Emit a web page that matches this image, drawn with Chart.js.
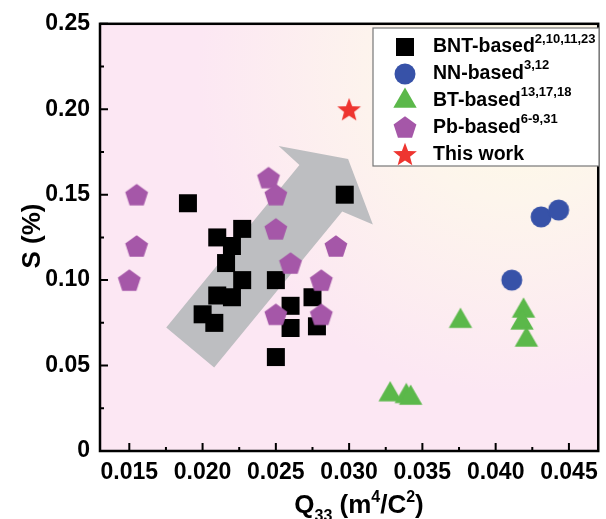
<!DOCTYPE html>
<html>
<head>
<meta charset="utf-8">
<script src="https://cdn.jsdelivr.net/npm/chart.js@4.4.1/dist/chart.umd.min.js"></script>
<style>
  html, body { margin: 0; padding: 0; background: #fff; }
  #wrap { width: 606px; height: 519px; }
</style>
</head>
<body>
<div id="wrap"><canvas id="chart" width="606" height="519"></canvas></div>
<script>
// ── Data (Q33 in m4/C2, S in %) ───────────────────────────────

const bntQ = [0.0190, 0.0210, 0.0227, 0.0220, 0.0216, 0.0227, 0.0210, 0.0220, 0.0200, 0.0208,
              0.0297, 0.0250, 0.0260, 0.0275, 0.0260, 0.0278, 0.0250];
const bntS = [0.145, 0.125, 0.130, 0.120, 0.110, 0.100, 0.091, 0.090, 0.080, 0.075,
              0.150, 0.100, 0.085, 0.090, 0.072, 0.073, 0.055];

const nnQ  = [0.0431, 0.0443, 0.0411];
const nnS  = [0.137, 0.141, 0.100];

const btQ  = [0.0376, 0.0419, 0.0418, 0.0421, 0.0328, 0.0339, 0.0342];
const btS  = [0.076, 0.082, 0.075, 0.065, 0.033, 0.032, 0.031];

const pbQ  = [0.0155, 0.0155, 0.0150, 0.0245, 0.0250, 0.0250, 0.0260, 0.0250, 0.0291, 0.0281, 0.0281];
const pbS  = [0.150, 0.120, 0.100, 0.160, 0.150, 0.130, 0.110, 0.080, 0.120, 0.100, 0.080];

const thisQ = [0.0300];
const thisS = [0.200];

const xTicks = ['0.015', '0.020', '0.025', '0.030', '0.035', '0.040', '0.045'];
const yTicks = ['0', '0.05', '0.10', '0.15', '0.20', '0.25'];

// trend arrow outline, in data units
const arrowQ = [0.01752, 0.02661, 0.02519, 0.02993, 0.03162, 0.02953, 0.02079];
const arrowS = [0.0723, 0.1674, 0.1785, 0.1709, 0.1326, 0.1401, 0.0488];

const FONT = "'Liberation Sans', Arial, Helvetica, sans-serif";

// ── Markers ───────────────────────────────────────────────────

function markerImage(kind, color) {
  const c = document.createElement('canvas');
  c.width = c.height = 28;
  const g = c.getContext('2d');
  const cx = 14, cy = 14;
  g.fillStyle = color;
  g.beginPath();
  if (kind === 'square') {
    g.rect(cx - 9, cy - 9, 18, 18);
  } else if (kind === 'circle') {
    g.arc(cx, cy, 10.5, 0, Math.PI * 2);
  } else if (kind === 'triangle') {
    const R = 13.5;
    for (let i = 0; i < 3; i++) {
      const a = -Math.PI / 2 + i * 2 * Math.PI / 3;
      g.lineTo(cx + R * Math.cos(a), cy + R * Math.sin(a));
    }
  } else if (kind === 'pentagon') {
    const R = 12, oy = cy + 0.095 * R;
    for (let i = 0; i < 5; i++) {
      const a = -Math.PI / 2 + i * 2 * Math.PI / 5;
      g.lineTo(cx + R * Math.cos(a), oy + R * Math.sin(a));
    }
  } else if (kind === 'star') {
    const R = 12.5, r = 5.3, oy = cy + 0.095 * R;
    for (let i = 0; i < 10; i++) {
      const a = -Math.PI / 2 + i * Math.PI / 5;
      const rad = i % 2 ? r : R;
      g.lineTo(cx + rad * Math.cos(a), oy + rad * Math.sin(a));
    }
  }
  g.closePath();
  g.fill();
  return c;
}

const SERIES = [
  { label: 'BNT-based', sup: '2,10,11,23', kind: 'square',   color: '#000000', q: bntQ,  s: bntS,  order: 5 },
  { label: 'NN-based',  sup: '3,12',       kind: 'circle',   color: '#3752a8', q: nnQ,   s: nnS,   order: 4 },
  { label: 'BT-based',  sup: '13,17,18',   kind: 'triangle', color: '#5bb84a', q: btQ,   s: btS,   order: 3 },
  { label: 'Pb-based',  sup: '6-9,31',     kind: 'pentagon', color: '#a557a8', q: pbQ,   s: pbS,   order: 2 },
  { label: 'This work', sup: '',           kind: 'star',     color: '#ee3530', q: thisQ, s: thisS, order: 1 },
];
SERIES.forEach(sr => { sr.img = markerImage(sr.kind, sr.color); });

// ── Plugins ───────────────────────────────────────────────────

const backdrop = {
  id: 'backdrop',
  beforeDraw(chart) {
    const { ctx, chartArea: a, scales } = chart;
    ctx.save();
    const grad = ctx.createRadialGradient(a.right - 80, a.top + 50, 0, a.right - 80, a.top + 50, 320);
    grad.addColorStop(0, '#fefce4');
    grad.addColorStop(0.4, '#fdf5ec');
    grad.addColorStop(1, '#fce7f3');
    ctx.fillStyle = grad;
    ctx.fillRect(a.left, a.top, a.right - a.left, a.bottom - a.top);

    // gray trend arrow under the points
    ctx.beginPath();
    arrowQ.forEach((q, i) => {
      ctx.lineTo(scales.x.getPixelForValue(q), scales.y.getPixelForValue(arrowS[i]));
    });
    ctx.closePath();
    ctx.fillStyle = '#bdbec1';
    ctx.fill();
    ctx.restore();
  },
};

const frame = {
  id: 'frame',
  afterDatasetsDraw(chart) {
    const { ctx, chartArea: a, scales } = chart;
    ctx.save();
    ctx.strokeStyle = '#000';
    ctx.lineWidth = 2;
    ctx.beginPath();
    scales.x.ticks.forEach(t => {
      const px = scales.x.getPixelForValue(t.value);
      const len = t.label ? 8 : 4;
      ctx.moveTo(px, a.bottom); ctx.lineTo(px, a.bottom - len);
    });
    scales.y.ticks.forEach(t => {
      const py = scales.y.getPixelForValue(t.value);
      const len = t.label ? 8 : 4;
      ctx.moveTo(a.left, py); ctx.lineTo(a.left + len, py);
    });
    ctx.stroke();
    ctx.lineWidth = 2.5;
    ctx.strokeRect(a.left, a.top, a.right - a.left, a.bottom - a.top);
    ctx.restore();
  },
};

function drawRich(ctx, parts, x, y, align) {
  // parts: [text, size, dy]
  let total = 0;
  parts.forEach(p => { ctx.font = `bold ${p[1]}px ${FONT}`; total += ctx.measureText(p[0]).width; });
  let cx = align === 'center' ? x - total / 2 : x;
  parts.forEach(p => {
    ctx.font = `bold ${p[1]}px ${FONT}`;
    ctx.fillText(p[0], cx, y + p[2]);
    cx += ctx.measureText(p[0]).width;
  });
}

const titles = {
  id: 'titles',
  afterDraw(chart) {
    const { ctx } = chart;
    ctx.save();
    ctx.fillStyle = '#000';
    ctx.textAlign = 'left';
    ctx.textBaseline = 'alphabetic';
    drawRich(ctx, [['Q', 26, 0], ['33', 16, 8], [' (m', 26, 0], ['4', 16, -11], ['/C', 26, 0], ['2', 16, -11], [')', 26, 0]], 359, 513, 'center');

    ctx.translate(33, 236);
    ctx.rotate(-Math.PI / 2);
    ctx.textAlign = 'center';
    ctx.textBaseline = 'middle';
    ctx.font = `bold 26px ${FONT}`;
    ctx.fillText('S (%)', 0, 0);
    ctx.restore();
  },
};

const legendBox = {
  id: 'legendBox',
  afterDraw(chart) {
    const { ctx } = chart;
    const box = { x: 373, y: 28, w: 226, h: 138 };
    ctx.save();
    ctx.fillStyle = '#ffffff';
    ctx.fillRect(box.x, box.y, box.w, box.h);
    ctx.strokeStyle = '#777';
    ctx.lineWidth = 1.2;
    ctx.strokeRect(box.x, box.y, box.w, box.h);
    ctx.fillStyle = '#000';
    ctx.textAlign = 'left';
    ctx.textBaseline = 'middle';
    SERIES.forEach((sr, i) => {
      const y = 47 + i * 26.8;
      ctx.drawImage(sr.img, 405 - 14, Math.round(y) - 14);
      drawRich(ctx, [[sr.label, 19.5, 0], [sr.sup, 13, -8]], 433, y, 'left');
    });
    ctx.restore();
  },
};

// ── Chart ─────────────────────────────────────────────────────

const isMajor = (v, step) => Math.abs(v / step - Math.round(v / step)) < 1e-6;

new Chart(document.getElementById('chart'), {
  type: 'scatter',
  data: {
    datasets: SERIES.map(sr => ({
      label: sr.label,
      data: sr.q.map((q, i) => ({ x: q, y: sr.s[i] })),
      pointStyle: sr.img,
      backgroundColor: sr.color,
      order: sr.order,
    })),
  },
  options: {
    responsive: false,
    animation: false,
    devicePixelRatio: 1,
    layout: { padding: { top: 21, right: 4, left: 0, bottom: 0 } },
    plugins: { legend: { display: false }, tooltip: { enabled: false } },
    scales: {
      x: {
        type: 'linear',
        min: 0.013,
        max: 0.047,
        grid: { display: false, drawTicks: false },
        border: { display: false },
        afterFit: s => { s.height = 68; },
        ticks: {
          stepSize: 0.0025,
          includeBounds: false,
          autoSkip: false,
          maxRotation: 0,
          padding: 8,
          color: '#000',
          font: { family: FONT, size: 23, weight: 'bold' },
          callback: v => {
            if (!isMajor(v, 0.005)) return '';
            return xTicks.find(t => Math.abs(parseFloat(t) - v) < 1e-6) || '';
          },
        },
      },
      y: {
        type: 'linear',
        min: 0,
        max: 0.25,
        grid: { display: false, drawTicks: false },
        border: { display: false },
        afterFit: s => { s.width = 100; },
        ticks: {
          stepSize: 0.025,
          autoSkip: false,
          padding: 10,
          color: '#000',
          font: { family: FONT, size: 23, weight: 'bold' },
          callback: v => {
            if (!isMajor(v, 0.05)) return '';
            return yTicks.find(t => Math.abs(parseFloat(t) - v) < 1e-6) || '';
          },
        },
      },
    },
  },
  plugins: [backdrop, frame, titles, legendBox],
});
</script>
</body>
</html>
